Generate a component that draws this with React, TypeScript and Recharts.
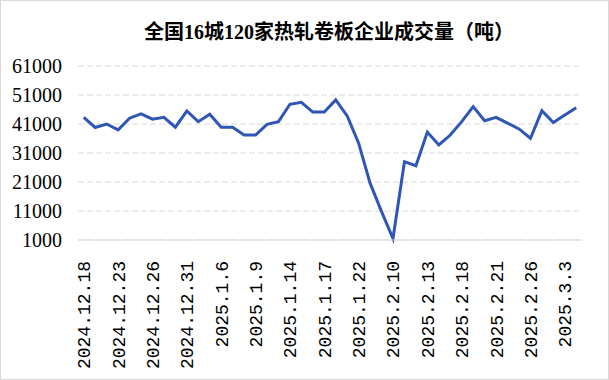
import React from "react";
import { LineChart, Line, XAxis, YAxis, CartesianGrid } from "recharts";

const dates = [
  "2024.12.18", "2024.12.19", "2024.12.20", "2024.12.23", "2024.12.24", "2024.12.25",
  "2024.12.26", "2024.12.27", "2024.12.30", "2024.12.31", "2025.1.2", "2025.1.3",
  "2025.1.6", "2025.1.7", "2025.1.8", "2025.1.9", "2025.1.10", "2025.1.13",
  "2025.1.14", "2025.1.15", "2025.1.16", "2025.1.17", "2025.1.20", "2025.1.21",
  "2025.1.22", "2025.1.23", "2025.2.7", "2025.2.10", "2025.2.11", "2025.2.12",
  "2025.2.13", "2025.2.14", "2025.2.17", "2025.2.18", "2025.2.19", "2025.2.20",
  "2025.2.21", "2025.2.24", "2025.2.25", "2025.2.26", "2025.2.27", "2025.2.28",
  "2025.3.3", "2025.3.4",
];

const volumes = [
  43300, 39800, 41000, 38970, 43000, 44500,
  42650, 43300, 39900, 45500, 41800, 44400,
  39900, 39900, 37200, 37200, 40900, 41800,
  47800, 48500, 45100, 45100, 49300, 43800,
  34400, 20600, 10800, 1500, 28000, 26600,
  38200, 33800, 37200, 41800, 47000, 42100,
  43300, 41300, 39300, 36100, 45600, 41500,
  44100, 46600,
];

const yTicks = [1000, 11000, 21000, 31000, 41000, 51000, 61000];

const title = "全国16城120家热轧卷板企业成交量（吨）";

const data = dates.map((d, i) => ({ date: d, value: volumes[i] }));

const XTick = (props: any) => {
  const { x, y, payload } = props;
  return (
    <g transform={`translate(${x},${y})`}>
      <text
        x={-13}
        y={0}
        dy="0.36em"
        transform="rotate(-90)"
        textAnchor="end"
        fill="#000"
        fontSize={18}
        fontFamily="Liberation Mono, monospace"
      >
        {payload.value}
      </text>
    </g>
  );
};

export default function App() {
  return (
    <div
      style={{
        position: "absolute",
        left: 0,
        top: 0,
        width: 609,
        height: 380,
        background: "#fff",
        boxSizing: "border-box",
        border: "1px solid #d9d9d9",
        overflow: "hidden",
      }}
    >
      <div
        style={{
          position: "absolute",
          left: 128,
          top: 19,
          width: 400,
          textAlign: "center",
          fontSize: 20,
          fontWeight: 700,
          fontFamily: "Liberation Serif, 'Noto Sans CJK SC', serif",
          color: "#000",
          lineHeight: "24px",
        }}
      >
        {title}
      </div>
      <div style={{ position: "absolute", left: -1, top: -1 }}>
        <LineChart
          width={609}
          height={380}
          data={data}
          margin={{ top: 66, right: 27, bottom: 10, left: 0 }}
        >
          <CartesianGrid
            vertical={false}
            stroke="#d9d9d9"
            strokeDasharray="6 3"
          />
          <XAxis
            dataKey="date"
            interval={2}
            padding={{ left: 5.75, right: 5.75 }}
            height={130}
            tickLine={false}
            axisLine={{ stroke: "#d9d9d9", strokeWidth: 1 }}
            tick={<XTick />}
          />
          <YAxis
            domain={[1000, 61000]}
            ticks={yTicks}
            type="number"
            width={78}
            tickSize={0}
            tickMargin={16}
            tickLine={false}
            axisLine={false}
            tick={{
              fill: "#000",
              fontSize: 20,
              fontFamily: "Liberation Serif, serif",
            }}
          />
          <Line
            type="linear"
            dataKey="value"
            stroke="#2E56B4"
            strokeWidth={3}
            dot={false}
            isAnimationActive={false}
          />
        </LineChart>
      </div>
    </div>
  );
}
